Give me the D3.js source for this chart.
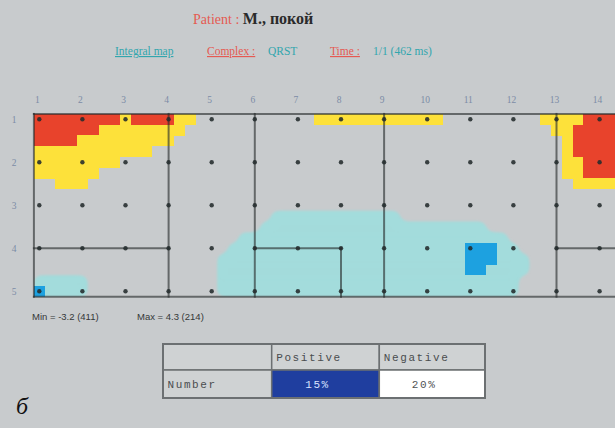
<!DOCTYPE html>
<html>
<head>
<meta charset="utf-8">
<script src="https://cdn.jsdelivr.net/npm/d3@7/dist/d3.min.js"></script>
<style>
  html, body { margin: 0; padding: 0; background: #c8cbcd; }
  svg { display: block; }
</style>
</head>
<body>
<svg id="chart" width="615" height="428"></svg>
<script>
// ---- data -------------------------------------------------------------
const colLabels = ["1","2","3","4","5","6","7","8","9","10","11","12","13","14"];
const rowLabels = ["1","2","3","4","5"];
const subSteps = 4;               // raster cells per electrode spacing

const levelKeys   = ["r", "y", "c", "b"];
const levelColors = ["#e8432c", "#fde13a", "#a3dcdc", "#1da1e0"];

// integral map raster, as runs: [raster row, first cell, last cell, level]
const mapRuns = [
  [0,0,7,"r"],[0,8,8,"y"],[0,9,12,"r"],[0,13,14,"y"],[0,26,37,"y"],[0,47,50,"y"],[0,51,53,"r"],
  [1,0,5,"r"],[1,6,13,"y"],[1,48,49,"y"],[1,50,53,"r"],
  [2,0,3,"r"],[2,4,12,"y"],[2,49,49,"y"],[2,50,53,"r"],
  [3,0,10,"y"],[3,49,49,"y"],[3,50,53,"r"],
  [4,0,7,"y"],[4,49,50,"y"],[4,51,53,"r"],
  [5,0,5,"y"],[5,49,50,"y"],[5,51,53,"r"],
  [6,2,4,"y"],[6,50,53,"y"],
  [9,22,33,"c"],
  [10,21,41,"c"],
  [11,19,43,"c"],
  [12,18,44,"c"],
  [13,17,45,"c"],
  [14,17,45,"c"],
  [15,0,4,"c"],[15,17,44,"c"],
  [16,0,4,"c"],[16,17,44,"c"],
  [12,40,42,"b"],[13,40,42,"b"],[14,40,41,"b"],[16,0,0,"b"]
];

// lead grid outline, in electrode units: [col1, row1, col2, row2]
const gridSegments = [
  [0.875,0.875,14.7,0.875], [0.875,5.125,14.7,5.125], [0.875,0.875,0.875,5.125],
  [4,0.875,4,5.125], [6,0.875,6,5.125], [9,0.875,9,5.125], [13,0.875,13,5.125],
  [0.875,4,4,4], [6,4,8,4], [8,4,8,5.125], [13,4,14.7,4]
];

const patientLabel = "Patient :";
const patientName  = "M., покой";
const infoItems = [
  { text: "Integral map",  kind: "link" },
  { text: "Complex :",     kind: "key"  },
  { text: "QRST",          kind: "val"  },
  { text: "Time :",        kind: "key"  },
  { text: "1/1 (462 ms)",  kind: "val"  }
];
const infoX = [115, 207, 268, 330, 373];

const minValue = -3.2, minLead = 411;
const maxValue = 4.3,  maxLead = 214;

const tableHeader = ["", "Positive", "Negative"];
const tableRowLabel = "Number";
const sharePercent = [15, 20];

// ---- drawing ----------------------------------------------------------
const svg = d3.select("#chart");
const W = 615, H = 428;
const bg = "#c8cbcd";

svg.append("rect").attr("width", W).attr("height", H).attr("fill", bg);

const defs = svg.append("defs");
const soft = defs.append("filter").attr("id", "soft")
  .attr("x", "-10%").attr("y", "-20%").attr("width", "120%").attr("height", "140%");
soft.append("feGaussianBlur").attr("in", "SourceGraphic").attr("stdDeviation", 4.5).attr("result", "b");
const ct = soft.append("feComponentTransfer").attr("in", "b").attr("result", "t");
ct.append("feFuncA").attr("type", "table").attr("tableValues", "0 0 0 0 0 1 1 1 1 1");
soft.append("feGaussianBlur").attr("in", "t").attr("stdDeviation", 0.8);

const clip = defs.append("clipPath").attr("id", "mapClip");

const x = d3.scaleLinear().domain([1, 14]).range([39.3, 599.6]);
const y = d3.scaleLinear().domain([1, 5]).range([119.3, 291.3]);
const color = d3.scaleOrdinal().domain(levelKeys).range(levelColors);
const step = 1 / subSteps;
const cellX = i => x(1 + (i - 0.5) * step);
const cellY = j => y(1 + (j - 0.5) * step);

clip.append("rect")
  .attr("x", x(0.875)).attr("y", y(0.875))
  .attr("width", W - x(0.875)).attr("height", y(5.125) - y(0.875));

const mapG = svg.append("g").attr("clip-path", "url(#mapClip)");

function drawRuns(g, runs) {
  g.selectAll("rect").data(runs).join("rect")
    .attr("x", d => cellX(d[1]))
    .attr("y", d => cellY(d[0]))
    .attr("width", d => cellX(d[2] + 1) - cellX(d[1]))
    .attr("height", d => cellY(d[0] + 1) - cellY(d[0]) + 0.3)
    .attr("fill", d => color(d[3]));
}

// smooth negative area, then the sharp-edged levels on top
drawRuns(mapG.append("g").attr("filter", "url(#soft)"), mapRuns.filter(d => d[3] === "c"));
drawRuns(mapG.append("g").attr("shape-rendering", "crispEdges"), mapRuns.filter(d => d[3] !== "c"));

// lead grid lines
svg.append("g").selectAll("line").data(gridSegments).join("line")
  .attr("x1", d => x(d[0])).attr("y1", d => y(d[1]))
  .attr("x2", d => x(d[2])).attr("y2", d => y(d[3]))
  .attr("stroke", "#262b2c").attr("stroke-opacity", 0.62)
  .attr("stroke-width", 2).attr("stroke-linecap", "square");

// electrode points
const leads = d3.cross(d3.range(1, colLabels.length + 1), d3.range(1, rowLabels.length + 1));
svg.append("g").selectAll("circle").data(leads).join("circle")
  .attr("cx", d => x(d[0])).attr("cy", d => y(d[1]))
  .attr("r", 2.2).attr("fill", "#232b2c").attr("fill-opacity", 0.88);

// lead numbers
const axisColor = "#7c8ba6";
svg.append("g").selectAll("text").data(colLabels).join("text")
  .attr("x", (d, i) => x(i + 1) - 2).attr("y", 103)
  .attr("text-anchor", "middle")
  .attr("font-family", "Liberation Serif, serif").attr("font-size", 9.5)
  .attr("fill", axisColor).text(d => d);
svg.append("g").selectAll("text").data(rowLabels).join("text")
  .attr("x", 14).attr("y", (d, i) => y(i + 1) + 3.5)
  .attr("text-anchor", "middle")
  .attr("font-family", "Liberation Serif, serif").attr("font-size", 9.5)
  .attr("fill", axisColor).text(d => d);

// title
const red = "#e55a52", teal = "#32a6ad";
const title = svg.append("text").attr("x", 193).attr("y", 24)
  .attr("font-family", "Liberation Serif, serif");
title.append("tspan").attr("font-size", 14).attr("fill", red).text(patientLabel + " ");
title.append("tspan").attr("font-size", 16).attr("font-weight", "bold").attr("fill", "#2a2a2a").text(patientName);

svg.append("g").selectAll("text").data(infoItems).join("text")
  .attr("x", (d, i) => infoX[i]).attr("y", 55)
  .attr("font-family", "Liberation Serif, serif").attr("font-size", 11.5)
  .attr("fill", d => d.kind === "key" ? red : teal)
  .attr("text-decoration", d => d.kind === "val" ? null : "underline")
  .text(d => d.text);

// extremes
const fmt = d3.formatLocale({ decimal: ".", thousands: ",", grouping: [3], currency: ["", ""], minus: "-" }).format(".1f");
const statFont = "Liberation Sans, Arial, sans-serif";
svg.append("text").attr("x", 32).attr("y", 320)
  .attr("font-family", statFont).attr("font-size", 9.5).attr("fill", "#353838")
  .text(`Min = ${fmt(minValue)} (${minLead})`);
svg.append("text").attr("x", 137).attr("y", 320)
  .attr("font-family", statFont).attr("font-size", 9.5).attr("fill", "#353838")
  .text(`Max = ${fmt(maxValue)} (${maxLead})`);

// summary table
const colEdges = [163, 271.7, 379.3, 485];
const rowEdges = [344, 370, 398];
const tbl = svg.append("g");
const monoFont = "Liberation Mono, DejaVu Sans Mono, monospace";
const cells = [];
tableHeader.forEach((h, i) => cells.push({ r: 0, c: i, text: h, fill: "#cfd2d3", ink: "#4a4d4f", left: true }));
cells.push({ r: 1, c: 0, text: tableRowLabel, fill: "#cfd2d3", ink: "#4a4d4f", left: true });
cells.push({ r: 1, c: 1, text: sharePercent[0] + "%", fill: "#1f3e9f", ink: "#d8e2ff", left: false });
cells.push({ r: 1, c: 2, text: sharePercent[1] + "%", fill: "#ffffff", ink: "#505354", left: false });

tbl.selectAll("rect.cell").data(cells).join("rect").attr("class", "cell")
  .attr("x", d => colEdges[d.c]).attr("y", d => rowEdges[d.r])
  .attr("width", d => colEdges[d.c + 1] - colEdges[d.c])
  .attr("height", d => rowEdges[d.r + 1] - rowEdges[d.r])
  .attr("fill", d => d.fill)
  .attr("stroke", "#6c7072").attr("stroke-width", 1.5);
tbl.append("rect")
  .attr("x", colEdges[0]).attr("y", rowEdges[0])
  .attr("width", colEdges[3] - colEdges[0]).attr("height", rowEdges[2] - rowEdges[0])
  .attr("fill", "none").attr("stroke", "#6c7072").attr("stroke-width", 2);
tbl.selectAll("text").data(cells.filter(d => d.text)).join("text")
  .attr("x", d => d.left ? colEdges[d.c] + 4.5 : (colEdges[d.c] + colEdges[d.c + 1]) / 2 - 8)
  .attr("y", d => (rowEdges[d.r] + rowEdges[d.r + 1]) / 2 + 4)
  .attr("text-anchor", d => d.left ? "start" : "middle")
  .attr("font-family", monoFont).attr("font-size", 11)
  .attr("letter-spacing", 1.6)
  .attr("fill", d => d.ink)
  .text(d => d.text);

// panel letter
svg.append("text").attr("x", 16).attr("y", 414)
  .attr("font-family", "Liberation Serif, serif").attr("font-style", "italic")
  .attr("font-size", 24).attr("fill", "#111").text("б");
</script>
</body>
</html>
